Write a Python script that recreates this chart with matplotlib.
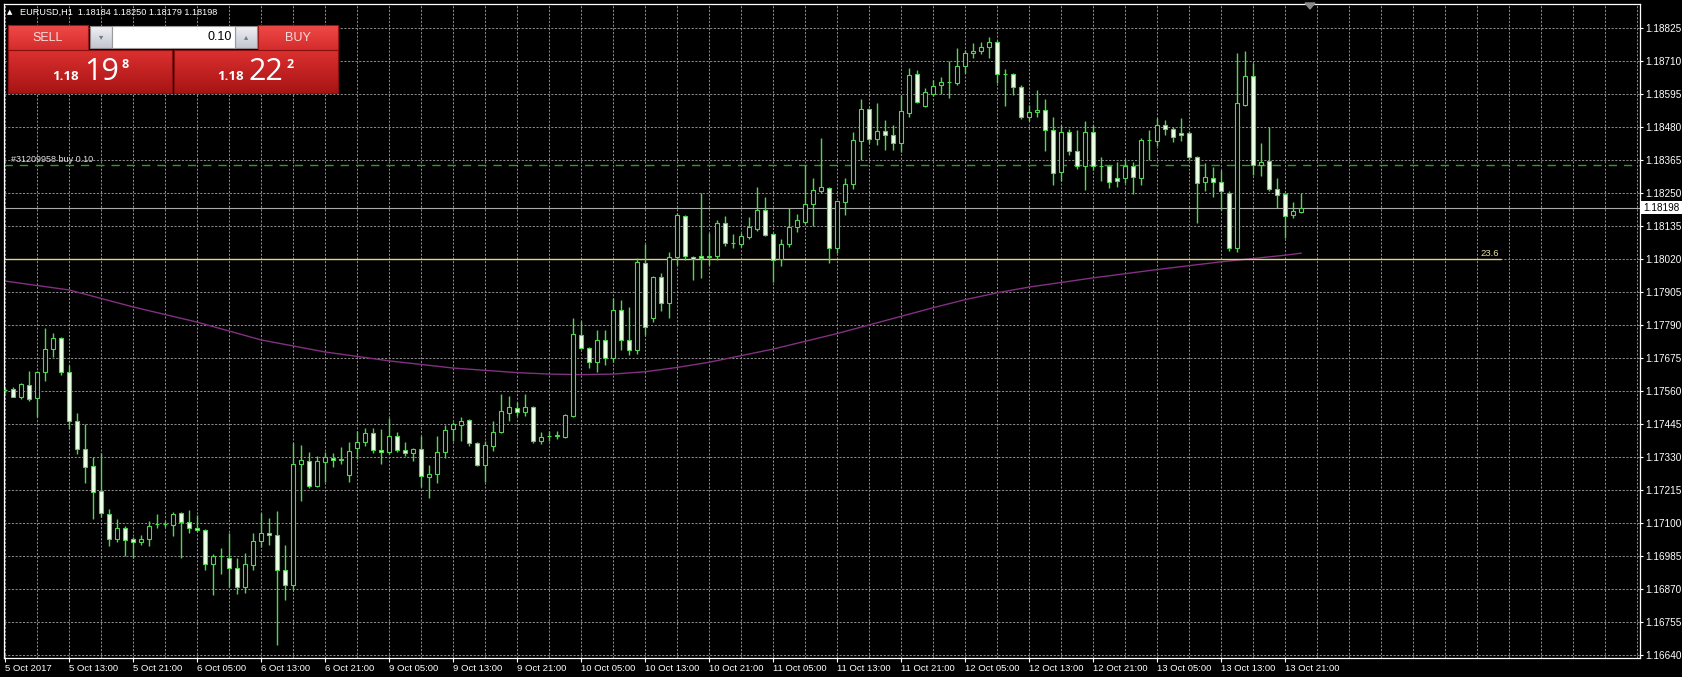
import numpy as np
import matplotlib
matplotlib.use("Agg")
import matplotlib.pyplot as plt
from matplotlib.patches import Rectangle, Polygon
from matplotlib.colors import LinearSegmentedColormap

# EURUSD H1, 5 Oct 2017 05:00 .. 13 Oct 2017 23:00 (one value per bar)
opens = [1.17562, 1.17566, 1.17540, 1.17580, 1.17536, 1.17626, 1.17706, 1.17745, 1.17626, 1.17454,
         1.17357, 1.17299, 1.17213, 1.17131, 1.17044, 1.17083, 1.17043, 1.17033, 1.17043, 1.17096,
         1.17097, 1.17093, 1.17135, 1.17104, 1.17083, 1.17076, 1.16957, 1.16985, 1.16980, 1.16943,
         1.16878, 1.16955, 1.17036, 1.17065, 1.17058, 1.16936, 1.16884, 1.17306, 1.17317, 1.17228,
         1.17311, 1.17325, 1.17320, 1.17267, 1.17361, 1.17383, 1.17412, 1.17356, 1.17349, 1.17404,
         1.17353, 1.17343, 1.17358, 1.17259, 1.17271, 1.17346, 1.17428, 1.17443, 1.17459, 1.17379,
         1.17302, 1.17370, 1.17416, 1.17483, 1.17501, 1.17488, 1.17505, 1.17385, 1.17402, 1.17404,
         1.17400, 1.17474, 1.17755, 1.17710, 1.17660, 1.17738, 1.17675, 1.17842, 1.17738, 1.17703,
         1.18006, 1.17814, 1.17957, 1.17867, 1.18027, 1.18170, 1.18027, 1.18030, 1.18027, 1.18030,
         1.18145, 1.18076, 1.18072, 1.18097, 1.18125, 1.18191, 1.18107, 1.18020, 1.18072, 1.18132,
         1.18149, 1.18212, 1.18257, 1.18267, 1.18058, 1.18219, 1.18281, 1.18431, 1.18543, 1.18438,
         1.18464, 1.18451, 1.18423, 1.18530, 1.18665, 1.18554, 1.18594, 1.18625, 1.18636, 1.18634,
         1.18693, 1.18737, 1.18746, 1.18758, 1.18775, 1.18664, 1.18664, 1.18618, 1.18516, 1.18531,
         1.18538, 1.18469, 1.18324, 1.18462, 1.18397, 1.18345, 1.18462, 1.18344, 1.18344, 1.18301,
         1.18303, 1.18342, 1.18303, 1.18435, 1.18431, 1.18487, 1.18472, 1.18458, 1.18458, 1.18376,
         1.18287, 1.18303, 1.18289, 1.18251, 1.18059, 1.18557, 1.18658, 1.18348, 1.18362, 1.18264,
         1.18245, 1.18173, 1.18184]
highs = [1.17570, 1.17573, 1.17587, 1.17629, 1.17631, 1.17780, 1.17762, 1.17749, 1.17652, 1.17482,
         1.17445, 1.17329, 1.17343, 1.17149, 1.17113, 1.17091, 1.17050, 1.17059, 1.17108, 1.17131,
         1.17108, 1.17137, 1.17137, 1.17147, 1.17129, 1.17078, 1.16992, 1.17013, 1.17064, 1.16980,
         1.16994, 1.17065, 1.17134, 1.17117, 1.17142, 1.17023, 1.17379, 1.17372, 1.17346, 1.17335,
         1.17346, 1.17344, 1.17364, 1.17381, 1.17419, 1.17431, 1.17431, 1.17428, 1.17466, 1.17418,
         1.17381, 1.17361, 1.17403, 1.17302, 1.17404, 1.17442, 1.17453, 1.17471, 1.17462, 1.17383,
         1.17387, 1.17455, 1.17550, 1.17544, 1.17521, 1.17550, 1.17509, 1.17418, 1.17422, 1.17422,
         1.17480, 1.17814, 1.17803, 1.17712, 1.17773, 1.17773, 1.17884, 1.17877, 1.17853, 1.18024,
         1.18072, 1.17960, 1.17971, 1.18044, 1.18180, 1.18173, 1.18030, 1.18250, 1.18111, 1.18156,
         1.18170, 1.18107, 1.18111, 1.18166, 1.18271, 1.18236, 1.18111, 1.18090, 1.18198, 1.18177,
         1.18348, 1.18302, 1.18442, 1.18271, 1.18222, 1.18302, 1.18463, 1.18578, 1.18546, 1.18564,
         1.18504, 1.18487, 1.18592, 1.18685, 1.18679, 1.18617, 1.18644, 1.18655, 1.18711, 1.18754,
         1.18748, 1.18772, 1.18777, 1.18793, 1.18781, 1.18681, 1.18667, 1.18626, 1.18557, 1.18609,
         1.18577, 1.18514, 1.18487, 1.18472, 1.18470, 1.18502, 1.18487, 1.18376, 1.18348, 1.18359,
         1.18367, 1.18359, 1.18441, 1.18470, 1.18510, 1.18504, 1.18481, 1.18510, 1.18464, 1.18380,
         1.18353, 1.18340, 1.18330, 1.18255, 1.18737, 1.18745, 1.18702, 1.18423, 1.18481, 1.18301,
         1.18249, 1.18218, 1.18250]
lows = [1.17554, 1.17538, 1.17531, 1.17526, 1.17468, 1.17594, 1.17677, 1.17616, 1.17428, 1.17340,
        1.17238, 1.17114, 1.17120, 1.17020, 1.17033, 1.16986, 1.16980, 1.17022, 1.17021, 1.17083,
        1.17085, 1.17056, 1.16980, 1.17066, 1.17071, 1.16936, 1.16850, 1.16922, 1.16878, 1.16853,
        1.16858, 1.16936, 1.17018, 1.17023, 1.16675, 1.16832, 1.16867, 1.17178, 1.17221, 1.17224,
        1.17244, 1.17294, 1.17306, 1.17244, 1.17323, 1.17370, 1.17344, 1.17306, 1.17340, 1.17346,
        1.17332, 1.17315, 1.17224, 1.17187, 1.17239, 1.17325, 1.17387, 1.17387, 1.17367, 1.17300,
        1.17242, 1.17352, 1.17412, 1.17457, 1.17474, 1.17474, 1.17379, 1.17375, 1.17387, 1.17393,
        1.17395, 1.17468, 1.17706, 1.17640, 1.17626, 1.17651, 1.17661, 1.17703, 1.17686, 1.17690,
        1.17755, 1.17800, 1.17840, 1.17814, 1.17999, 1.18017, 1.17947, 1.17954, 1.17999, 1.18017,
        1.18065, 1.18058, 1.18062, 1.18090, 1.18118, 1.18100, 1.17940, 1.17996, 1.18062, 1.18114,
        1.18142, 1.18135, 1.18250, 1.18006, 1.18041, 1.18173, 1.18264, 1.18365, 1.18424, 1.18417,
        1.18400, 1.18400, 1.18394, 1.18514, 1.18564, 1.18549, 1.18586, 1.18595, 1.18580, 1.18626,
        1.18669, 1.18719, 1.18734, 1.18719, 1.18632, 1.18553, 1.18592, 1.18507, 1.18502, 1.18514,
        1.18397, 1.18278, 1.18293, 1.18382, 1.18333, 1.18260, 1.18330, 1.18293, 1.18268, 1.18272,
        1.18284, 1.18247, 1.18278, 1.18365, 1.18415, 1.18452, 1.18429, 1.18431, 1.18365, 1.18144,
        1.18255, 1.18237, 1.18191, 1.18048, 1.18045, 1.18551, 1.18313, 1.18310, 1.18257, 1.18197,
        1.18092, 1.18164, 1.18179]
closes = [1.17565, 1.17540, 1.17583, 1.17532, 1.17627, 1.17706, 1.17745, 1.17626, 1.17457, 1.17358,
          1.17296, 1.17209, 1.17135, 1.17044, 1.17083, 1.17041, 1.17034, 1.17044, 1.17090, 1.17098,
          1.17098, 1.17131, 1.17105, 1.17084, 1.17076, 1.16957, 1.16986, 1.16987, 1.16943, 1.16878,
          1.16957, 1.17037, 1.17065, 1.17058, 1.16936, 1.16884, 1.17306, 1.17320, 1.17228, 1.17317,
          1.17329, 1.17320, 1.17322, 1.17350, 1.17381, 1.17412, 1.17356, 1.17346, 1.17404, 1.17354,
          1.17344, 1.17358, 1.17263, 1.17272, 1.17347, 1.17425, 1.17445, 1.17457, 1.17378, 1.17302,
          1.17372, 1.17417, 1.17489, 1.17504, 1.17488, 1.17505, 1.17385, 1.17401, 1.17405, 1.17406,
          1.17478, 1.17759, 1.17710, 1.17660, 1.17738, 1.17675, 1.17842, 1.17738, 1.17703, 1.18010,
          1.17783, 1.17957, 1.17867, 1.18027, 1.18173, 1.18030, 1.18020, 1.18024, 1.18030, 1.18145,
          1.18076, 1.18077, 1.18100, 1.18132, 1.18191, 1.18104, 1.18017, 1.18072, 1.18132, 1.18156,
          1.18212, 1.18260, 1.18271, 1.18058, 1.18222, 1.18281, 1.18435, 1.18543, 1.18438, 1.18466,
          1.18451, 1.18423, 1.18536, 1.18661, 1.18568, 1.18600, 1.18623, 1.18636, 1.18637, 1.18693,
          1.18737, 1.18745, 1.18758, 1.18775, 1.18664, 1.18663, 1.18618, 1.18516, 1.18531, 1.18538,
          1.18469, 1.18321, 1.18462, 1.18397, 1.18345, 1.18462, 1.18345, 1.18343, 1.18289, 1.18293,
          1.18342, 1.18305, 1.18435, 1.18436, 1.18487, 1.18472, 1.18446, 1.18452, 1.18376, 1.18284,
          1.18305, 1.18289, 1.18255, 1.18059, 1.18563, 1.18658, 1.18348, 1.18357, 1.18264, 1.18243,
          1.18171, 1.18187, 1.18198]

# slow moving average (purple), read every 4-8 bars
ma_bars = [0, 8, 16, 24, 32, 40, 48, 56, 64, 68, 72, 76, 80, 84, 88, 96, 104, 112, 116, 120, 124,
           128, 136, 144, 152, 160, 162]
ma_vals = [1.17943, 1.17912, 1.17853, 1.17800, 1.17738, 1.17696, 1.17665, 1.17640, 1.17624, 1.17619,
           1.17617, 1.17619, 1.17627, 1.17642, 1.17660, 1.17706, 1.17760, 1.17820, 1.17850, 1.17878,
           1.17902, 1.17922, 1.17954, 1.17983, 1.18010, 1.18033, 1.18040]

time_labels = ["5 Oct 2017", "5 Oct 13:00", "5 Oct 21:00", "6 Oct 05:00", "6 Oct 13:00", "6 Oct 21:00",
               "9 Oct 05:00", "9 Oct 13:00", "9 Oct 21:00", "10 Oct 05:00", "10 Oct 13:00", "10 Oct 21:00",
               "11 Oct 05:00", "11 Oct 13:00", "11 Oct 21:00", "12 Oct 05:00", "12 Oct 13:00", "12 Oct 21:00",
               "13 Oct 05:00", "13 Oct 13:00", "13 Oct 21:00"]
price_ticks = [1.18825, 1.18710, 1.18595, 1.18480, 1.18365, 1.18250, 1.18135, 1.18020, 1.17905, 1.17790,
               1.17675, 1.17560, 1.17445, 1.17330, 1.17215, 1.17100, 1.16985, 1.16870, 1.16755, 1.16640]

fib_level = 1.18020
fib_end_bar = 187
order_price = 1.18347
last_price = 1.18198
title = "EURUSD,H1  1.18184 1.18250 1.18179 1.18198"

GREEN = "#4fd84f"
W, H = 1682, 677
fig = plt.figure(figsize=(W / 100, H / 100), dpi=100, facecolor="black")
ax = fig.add_axes([4 / W, 19 / H, 1636 / W, 654 / H], facecolor="black")
ax.set_xlim(-0.125, 204.375)
ax.set_ylim(1.16630, 1.18908)

# grid
for p in price_ticks:
    ax.axhline(p, color="#8e8e8e", lw=0.7, dashes=(2.2, 1.6), zorder=1)
for b in range(0, 205, 4):
    ax.axvline(b, color="#8e8e8e", lw=0.7, dashes=(2.2, 1.6), zorder=1)

# moving average
ax.plot(ma_bars, ma_vals, color="#82307f", lw=1.0, zorder=2)

# candles
bars = np.arange(len(opens))
o = np.array(opens)
c = np.array(closes)
up = c >= o
body_lo = np.minimum(o, c)
body_h = np.maximum(np.abs(c - o), 0.00001)
ax.vlines(bars, lows, highs, color=GREEN, lw=1.0, zorder=3)
ax.bar(bars, body_h, bottom=body_lo, width=0.6, color=np.where(up, "black", "#effde9"),
       edgecolor=GREEN, linewidth=0.8, zorder=4)

# levels
ax.hlines(fib_level, -0.125, fib_end_bar, color="#dcd87c", lw=1.0, zorder=2)
ax.text(fib_end_bar - 0.3, fib_level + 0.00004, "23.6", color="#e6e2a0", fontsize=6.8,
        family="Liberation Sans", ha="right", va="bottom")
ax.axhline(order_price, color="#2f9a2f", lw=1.0, dashes=(6, 5), zorder=2)
ax.text(0.75, order_price + 0.00004, "#31209958 buy 0.10", color="#e0e0e0", fontsize=6.5,
        family="Liberation Sans", ha="left", va="bottom")
ax.axhline(last_price, color="#a8a8a8", lw=0.8, zorder=2)

# axes look
for s in ax.spines.values():
    s.set_color("white")
    s.set_linewidth(0.9)
ax.yaxis.tick_right()
ax.set_yticks(price_ticks)
ax.set_yticklabels([f"{p:.5f}" for p in price_ticks])
ax.set_xticks(range(0, 8 * len(time_labels), 8))
ax.set_xticklabels(time_labels)
ax.tick_params(axis="y", colors="white", length=2.5, pad=1, labelsize=7.2, direction="out")
ax.tick_params(axis="x", colors="white", length=3, pad=1.5, labelsize=6.8, direction="out")
for lbl in ax.get_xticklabels():
    lbl.set_ha("left")
    lbl.set_family("Liberation Sans")
for lbl in ax.get_yticklabels():
    lbl.set_family("Liberation Sans")

# overlay in pixel units for the terminal widgets
ov = fig.add_axes([0, 0, 1, 1], facecolor="none")
ov.set_xlim(0, W)
ov.set_ylim(H, 0)
ov.axis("off")


def grad_box(x0, y0, x1, y1, top, bot, edge=None):
    cmap = LinearSegmentedColormap.from_list("g", [top, bot])
    ov.imshow(np.linspace(0, 1, 60)[:, None], extent=(x0, x1, y1, y0), cmap=cmap,
              aspect="auto", zorder=5, interpolation="bilinear")
    if edge:
        ov.add_patch(Rectangle((x0, y0), x1 - x0, y1 - y0, fill=False, edgecolor=edge, lw=0.8, zorder=6))


ov.text(10, 12, "\u25b2", color="white", fontsize=5, ha="center", va="center")
ov.text(20, 12, title, color="white", fontsize=6.6, family="Liberation Sans", ha="left", va="center")
ov.add_patch(Polygon([(1305, 3), (1315, 3), (1310, 9)], closed=True, color="#8a8a8a"))

# one-click trading panel
grad_box(8, 25, 88, 50, "#ef4a48", "#d42c2c", "#9c1414")
grad_box(258, 25, 338, 50, "#ef4a48", "#d42c2c", "#9c1414")
grad_box(8, 50, 172, 93, "#dc3030", "#a81414", "#8a1010")
grad_box(174, 50, 338, 93, "#dc3030", "#a81414", "#8a1010")
grad_box(90, 26, 112, 48, "#f0f0f4", "#c4c6d0", "#8a8a90")
grad_box(235, 26, 257, 48, "#f0f0f4", "#c4c6d0", "#8a8a90")
ov.add_patch(Rectangle((112, 26), 123, 22, facecolor="white", edgecolor="#9a9a9a", lw=0.8, zorder=6))
ov.text(101, 37, "\u25be", color="#6a7a90", fontsize=6, ha="center", va="center", zorder=7)
ov.text(246, 37, "\u25b4", color="#6a7a90", fontsize=6, ha="center", va="center", zorder=7)
ov.text(232, 37, "0.10", color="black", fontsize=9, family="Liberation Sans", ha="right", va="center", zorder=7)
ov.text(48, 38, "SELL", color="#f8dcdc", fontsize=9, family="Liberation Sans", ha="center", va="center", zorder=7)
ov.text(298, 38, "BUY", color="#f8dcdc", fontsize=9, family="Liberation Sans", ha="center", va="center", zorder=7)
for x0, big, small in [(52, "19", "8"), (217, "22", "2")]:
    ov.text(x0, 80, "1.18", color="white", fontsize=9.5, fontweight="bold", family="Open Sans",
            ha="left", va="baseline", zorder=7)
    ov.text(x0 + 32, 80, big, color="white", fontsize=22, family="Open Sans",
            ha="left", va="baseline", zorder=7)
    ov.text(x0 + 73, 64, small, color="white", fontsize=9, fontweight="bold", family="Open Sans",
            ha="center", va="center", zorder=7)

# current price tag on the price scale
ax_y = 677 - (19 + (last_price - 1.16630) / (1.18908 - 1.16630) * 654)
ov.add_patch(Rectangle((1641, ax_y - 6.5), 41, 13, facecolor="white", edgecolor="none", zorder=6))
ov.text(1643, ax_y, f"{last_price:.5f}", color="black", fontsize=7.2, family="Liberation Sans",
        ha="left", va="center", zorder=7)

fig.savefig("out.png", dpi=100, facecolor="black")
